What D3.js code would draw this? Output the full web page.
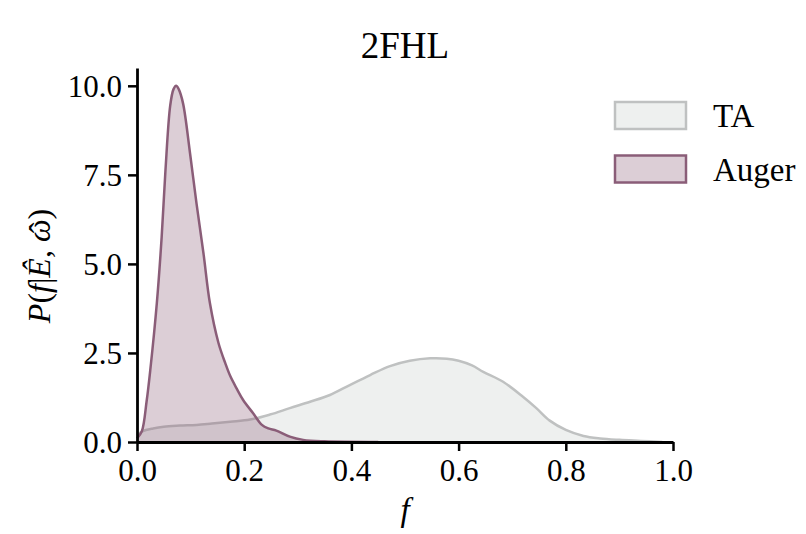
<!DOCTYPE html>
<html>
<head>
<meta charset="utf-8">
<script src="https://cdn.jsdelivr.net/npm/d3@7"></script>
<style>
  body { margin: 0; background: #fff; }
</style>
</head>
<body>
<svg id="chart"></svg>
<script>
// values: [f, density]
var taF = [0, 0.01, 0.03, 0.05, 0.08, 0.111, 0.14, 0.174, 0.211, 0.248, 0.285, 0.323, 0.36, 0.397, 0.435, 0.472, 0.509, 0.547, 0.578, 0.6, 0.625, 0.646, 0.683, 0.72, 0.745, 0.77, 0.8, 0.833, 0.864, 0.9, 0.94, 0.98];
var taP = [0.2, 0.3, 0.38, 0.43, 0.46, 0.48, 0.52, 0.57, 0.63, 0.77, 0.95, 1.13, 1.32, 1.6, 1.88, 2.13, 2.28, 2.35, 2.34, 2.28, 2.15, 1.97, 1.69, 1.27, 0.95, 0.6, 0.34, 0.17, 0.1, 0.06, 0.03, 0.0];

var augerF = [0, 0.009, 0.018, 0.025, 0.037, 0.046, 0.053, 0.062, 0.068, 0.073, 0.078, 0.086, 0.099, 0.111, 0.124, 0.136, 0.152, 0.165, 0.174, 0.186, 0.198, 0.217, 0.233, 0.245, 0.26, 0.285, 0.31, 0.35, 0.45];
var augerP = [0.1, 0.3, 1.15, 2.05, 3.9, 5.75, 7.6, 9.45, 9.9, 10.0, 9.9, 9.5, 8.1, 6.7, 5.3, 3.9, 2.78, 2.2, 1.85, 1.5, 1.18, 0.8, 0.48, 0.38, 0.32, 0.15, 0.06, 0.02, 0.0];

var xTicks = [0, 0.2, 0.4, 0.6, 0.8, 1.0];
var yTicks = [0, 2.5, 5.0, 7.5, 10.0];

var series = [
    {name: "TA", f: taF, p: taP, stroke: "#bfc1c1", fill: "#c6cccb"},
    {name: "Auger", f: augerF, p: augerP, stroke: "#8a5d78", fill: "#8a5d78"}
];

var FONT = "'Liberation Serif', 'Times New Roman', serif";

var W = 806, H = 534;
var margin = {top: 68, right: 133, bottom: 92, left: 137},
    width = W - margin.left - margin.right,
    height = H - margin.top - margin.bottom;

var svg = d3.select("#chart").attr("width", W).attr("height", H)
    .style("font-family", FONT);
var g = svg.append("g").attr("transform", "translate(" + margin.left + "," + margin.top + ")");

var x = d3.scaleLinear().domain([0, 1]).range([0, width]);
var y = d3.scaleLinear().domain([0, 10.5]).range([height, 0]);

var curve = d3.curveCatmullRom.alpha(0.5);
var area = d3.area()
    .x(d => x(d[0])).y0(y(0)).y1(d => y(d[1]))
    .curve(curve);
var line = d3.line()
    .x(d => x(d[0])).y(d => y(d[1]))
    .curve(curve);

series.forEach(s => {
    var pts = s.f.map((v, i) => [v, s.p[i]]);
    g.append("path").datum(pts)
        .attr("d", area)
        .style("fill", s.fill)
        .style("fill-opacity", 0.3);
    g.append("path").datum(pts)
        .attr("d", line)
        .style("fill", "none")
        .style("stroke", s.stroke)
        .style("stroke-width", 2.5);
});

// axes
var xAxis = d3.axisBottom(x).tickValues(xTicks).tickFormat(d3.format(".1f")).tickSize(9).tickSizeOuter(0).tickPadding(6);
var yAxis = d3.axisLeft(y).tickValues(yTicks).tickFormat(d3.format(".1f")).tickSize(9).tickSizeOuter(0).tickPadding(6);

var gx = g.append("g").attr("transform", "translate(0," + height + ")").call(xAxis);
var gy = g.append("g").call(yAxis);

[gx, gy].forEach(a => {
    a.attr("font-family", null).attr("font-size", null);
    a.select(".domain").style("stroke", "#000").style("stroke-width", 2.8);
    a.selectAll(".tick line").style("stroke", "#000").style("stroke-width", 2.5);
    a.selectAll(".tick text")
        .style("font-family", FONT)
        .style("font-size", "31px")
        .style("fill", "#000");
});
gx.selectAll(".tick text").attr("dy", "0.78em");
gy.selectAll(".tick text").attr("dy", "0.34em");

// title
svg.append("text")
    .attr("x", margin.left + width / 2)
    .attr("y", 58)
    .attr("text-anchor", "middle")
    .style("font-family", FONT)
    .style("font-size", "37px")
    .text("2FHL");

// x label
svg.append("text")
    .attr("x", margin.left + width / 2)
    .attr("y", 521)
    .attr("text-anchor", "middle")
    .style("font-family", FONT)
    .style("font-size", "33px")
    .style("font-style", "italic")
    .text("f");

// y label: P(f|Ê, ω̂), hat over omega placed by hand
var ylPos = "translate(50,266) rotate(-90)";
var yl = svg.append("text")
    .attr("transform", ylPos)
    .attr("text-anchor", "middle")
    .style("font-family", FONT)
    .style("font-size", "32px");
[["P", true], ["(", false], ["f", true], ["|", false], ["\u00CA", true], [", ", false], ["\u03C9", true], [")", false]]
    .forEach(p => {
        yl.append("tspan").text(p[0]).style("font-style", p[1] ? "italic" : "normal");
    });
var ylNode = yl.node();
var nChars = ylNode.getNumberOfChars();
var wStart = ylNode.getStartPositionOfChar(nChars - 2);
var wEnd = ylNode.getEndPositionOfChar(nChars - 2);
svg.append("text")
    .attr("transform", ylPos)
    .attr("x", (wStart.x + wEnd.x) / 2 + 3)
    .attr("y", 1)
    .attr("text-anchor", "middle")
    .style("font-family", FONT)
    .style("font-size", "32px")
    .text("\u02C6");

// legend
var legend = svg.selectAll(".legend")
    .data(series)
    .enter().append("g")
    .attr("class", "legend")
    .attr("transform", (d, i) => "translate(615," + (102 + i * 53.5) + ")");

legend.append("rect")
    .attr("width", 71)
    .attr("height", 27)
    .style("fill", "#fff");
legend.append("rect")
    .attr("width", 71)
    .attr("height", 27)
    .style("fill", d => d.fill)
    .style("fill-opacity", 0.3)
    .style("stroke", d => d.stroke)
    .style("stroke-width", 2.5);

legend.append("text")
    .attr("x", 98)
    .attr("y", 25)
    .style("font-family", FONT)
    .style("font-size", "33px")
    .text(d => d.name);
</script>
</body>
</html>
